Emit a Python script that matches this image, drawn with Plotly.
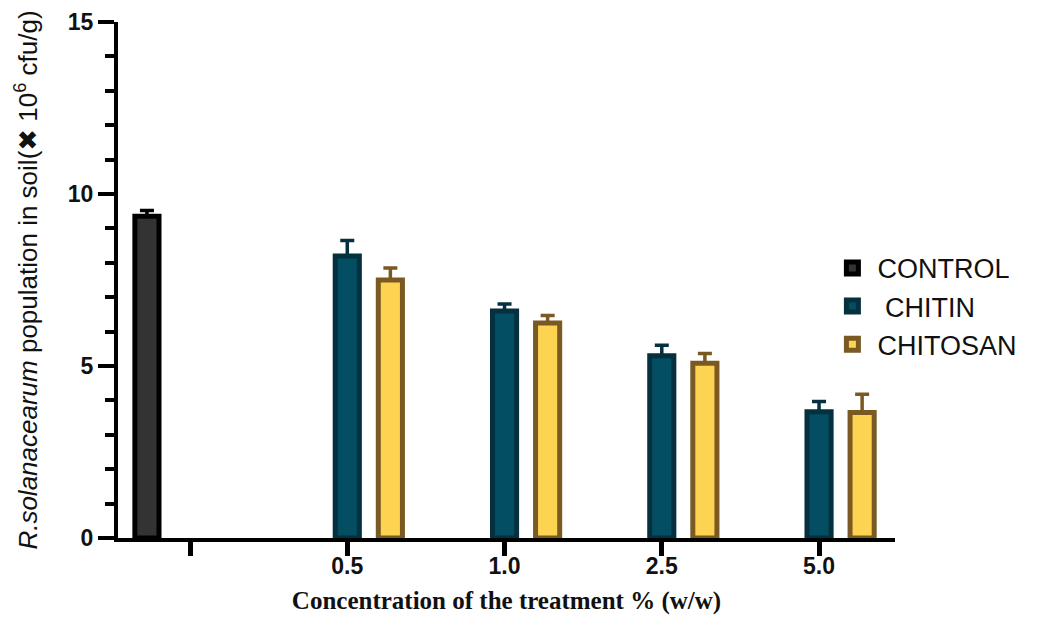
import plotly.graph_objects as go

# ---- data ----
positions = [0, 1, 2, 3, 4]
tick_labels = ["", "0.5", "1.0", "2.5", "5.0"]

control_x = [0]
control_mean = [9.35]
control_err = [0.17]

treat_x = [1, 2, 3, 4]
chitin_mean = [8.2, 6.6, 5.3, 3.67]
chitin_err = [0.45, 0.2, 0.3, 0.3]
chitosan_mean = [7.5, 6.25, 5.08, 3.65]
chitosan_err = [0.35, 0.22, 0.28, 0.53]

series = [
    ("CONTROL", control_x, control_mean, control_err, "#333333", "#000000"),
    (" CHITIN", treat_x, chitin_mean, chitin_err, "#034E62", "#05303F"),
    ("CHITOSAN", treat_x, chitosan_mean, chitosan_err, "#FCD452", "#7A5A22"),
]

fig = go.Figure()
for name, xs, ys, es, fill, edge in series:
    fig.add_trace(go.Bar(
        name=name,
        x=xs, y=ys,
        marker=dict(color=fill, line=dict(color=edge, width=5)),
        error_y=dict(type="data", array=es, arrayminus=[0] * len(es),
                     symmetric=False, color=edge, thickness=3.5, width=7),
    ))

sans = "Liberation Sans, Arial, DejaVu Sans, sans-serif"

fig.update_layout(
    width=1045, height=617,
    barmode="group",
    bargap=0.178,
    bargroupgap=0.44,
    plot_bgcolor="white",
    paper_bgcolor="white",
    margin=dict(l=110, r=158, t=14, b=87, autoexpand=False),
    showlegend=True,
    legend=dict(
        x=0.913, y=0.57, xanchor="left", yanchor="top",
        font=dict(family=sans, size=27, color="#111111"),
        bgcolor="rgba(0,0,0,0)",
        itemwidth=40,
    ),
)

fig.update_xaxes(
    range=[-0.458, 4.483],
    automargin=False,
    tickmode="array",
    tickvals=positions,
    ticktext=tick_labels,
    showline=True, linecolor="black", linewidth=4,
    ticks="outside", ticklen=14, tickwidth=5, tickcolor="black",
    ticklabelstandoff=-10,
    tickfont=dict(family=sans, size=23, color="#111111", weight="bold"),
    showgrid=False, zeroline=False,
    title=dict(
        text="Concentration of the treatment % (w/w)",
        font=dict(family="Liberation Serif, Times New Roman, serif", size=25,
                  color="#111111", weight="bold"),
        standoff=15,
    ),
)

fig.update_yaxes(
    range=[0, 15],
    automargin=False,
    tickmode="linear", tick0=0, dtick=5,
    showline=True, linecolor="black", linewidth=4,
    ticks="outside", ticklen=16, tickwidth=4, tickcolor="black",
    minor=dict(dtick=1, ticks="outside", ticklen=9, tickwidth=4, tickcolor="black"),
    ticklabeloverflow="allow",
    tickfont=dict(family=sans, size=23, color="#111111", weight="bold"),
    showgrid=False, zeroline=False,
    title=dict(
        text="<i>R.solanacearum</i> population in soil(✖ 10<sup>6</sup> cfu/g)",
        font=dict(family=sans, size=26, color="#111111"),
        standoff=24,
    ),
)

fig.write_html("out.html")
